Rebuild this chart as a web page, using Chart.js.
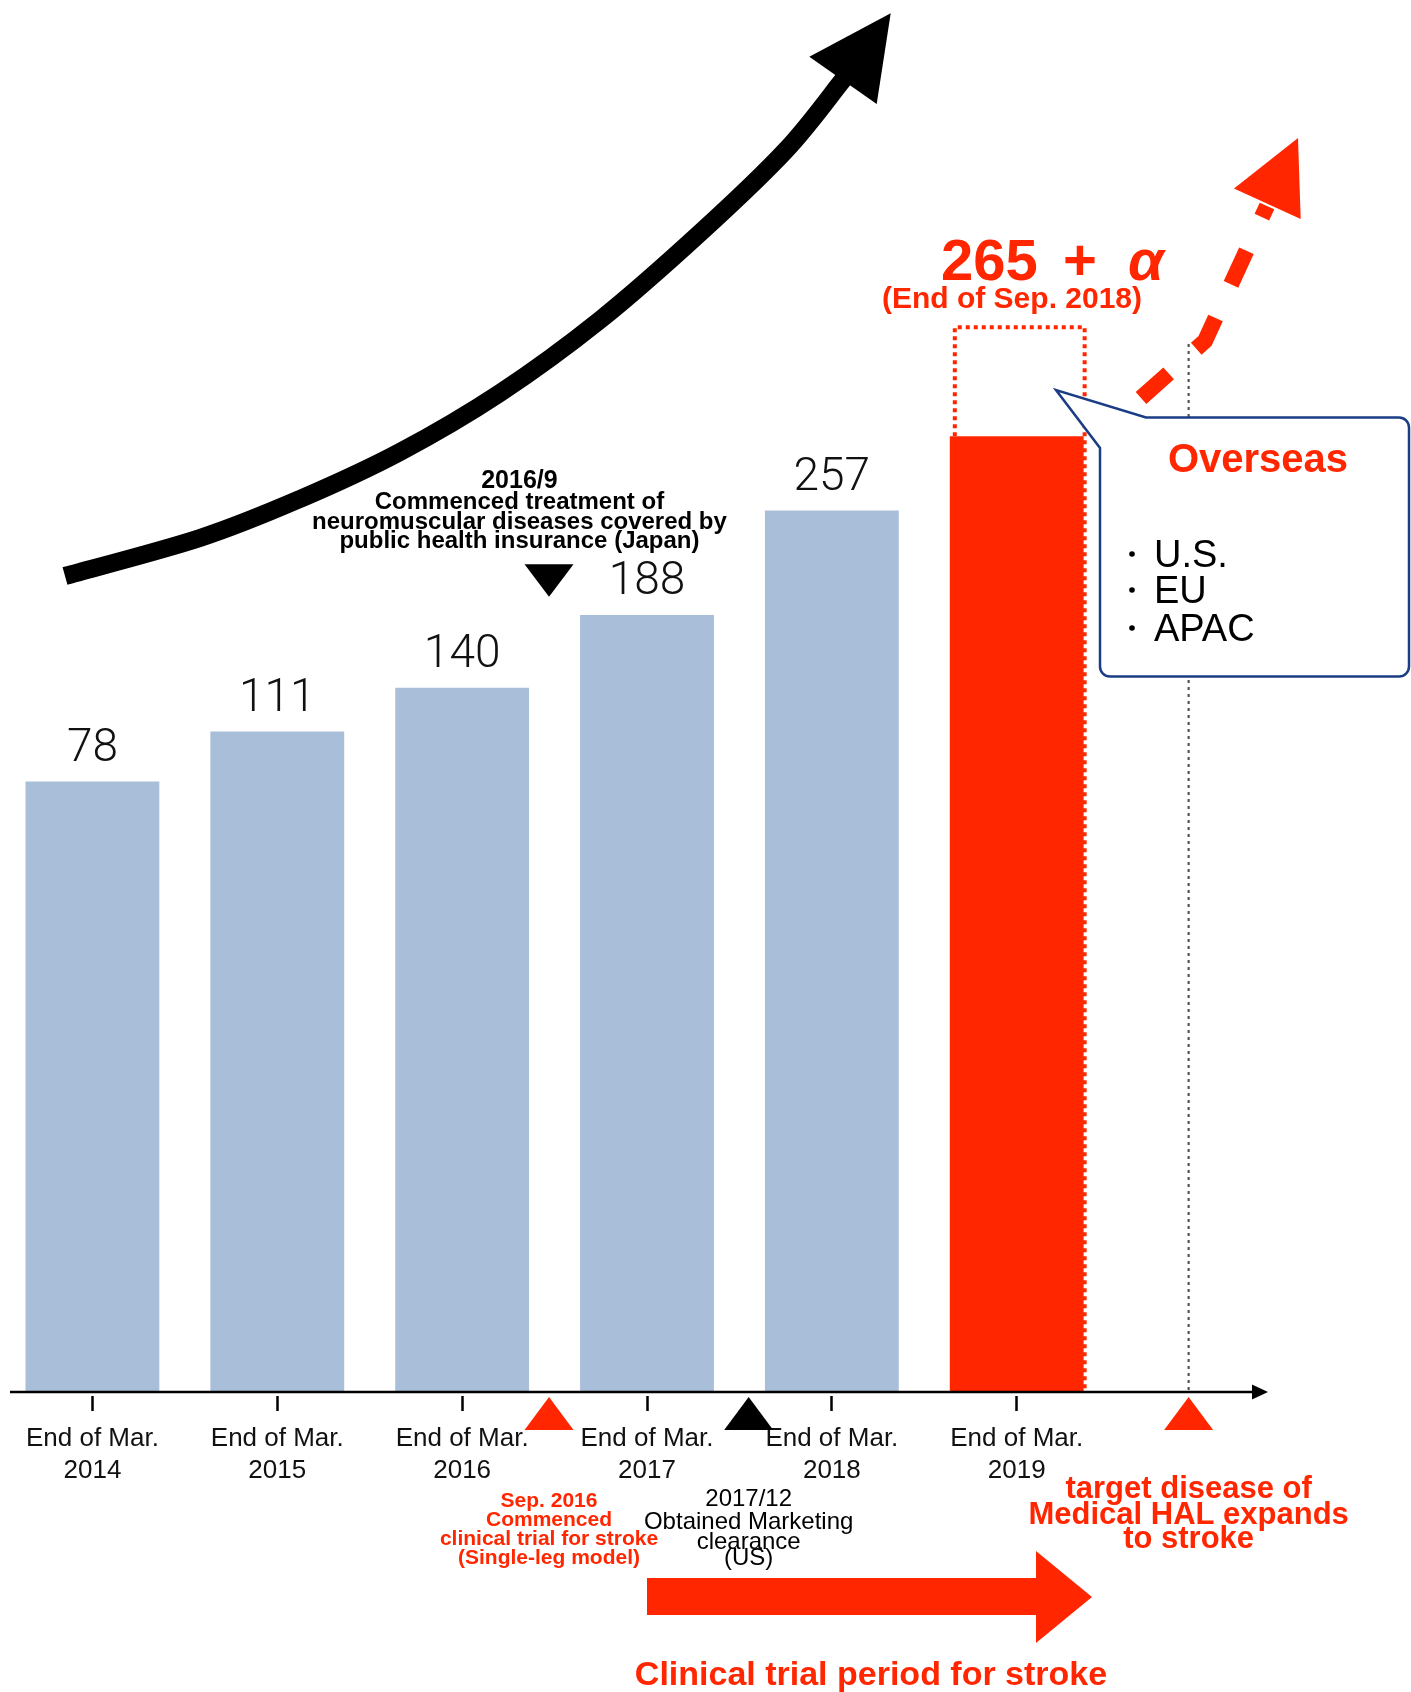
<!DOCTYPE html>
<html>
<head>
<meta charset="utf-8">
<title>Medical HAL units</title>
<script src="https://cdn.jsdelivr.net/npm/chart.js@4.4.1/dist/chart.umd.min.js"></script>
<style>
  html, body { margin: 0; padding: 0; background: #fff; }
  #wrap { position: relative; width: 1411px; height: 1692px; }
</style>
</head>
<body>
<div id="wrap"><canvas id="chart"></canvas></div>
<script>
// datos del grafico
const categories = [
  ['End of Mar.', '2014'],
  ['End of Mar.', '2015'],
  ['End of Mar.', '2016'],
  ['End of Mar.', '2017'],
  ['End of Mar.', '2018'],
  ['End of Mar.', '2019'],
  ''
];
const unitCounts = [78, 111, 140, 188, 257, null, null];
const forecastCounts = [null, null, null, null, null, 306, null]; // barra roja (estimada)
const overseasRange = [null, null, null, null, null, [306, 378], null]; // caja punteada "+ α"
const yMin = -325;
const yMax = 594;

const BLUE = '#a9bed9';
const RED = '#ff2600';
const NAVY = '#1b3d86';
const SANS = '"Liberation Sans", Arial, Helvetica, sans-serif';

function poly(ctx, pts, color) {
  ctx.beginPath();
  pts.forEach((p, i) => i ? ctx.lineTo(p[0], p[1]) : ctx.moveTo(p[0], p[1]));
  ctx.closePath();
  ctx.fillStyle = color;
  ctx.fill();
}

function lines(ctx, rows, x, baselines, font, color) {
  ctx.font = font;
  ctx.fillStyle = color;
  ctx.textAlign = 'center';
  ctx.textBaseline = 'alphabetic';
  rows.forEach((r, i) => ctx.fillText(r, x, baselines[i]));
}

// curva suave (catmull-rom) para la flecha negra
function smoothPath(ctx, pts) {
  ctx.moveTo(pts[0][0], pts[0][1]);
  for (let i = 0; i < pts.length - 1; i++) {
    const p0 = pts[i - 1] || pts[i];
    const p1 = pts[i];
    const p2 = pts[i + 1];
    const p3 = pts[i + 2] || p2;
    ctx.bezierCurveTo(
      p1[0] + (p2[0] - p0[0]) / 6, p1[1] + (p2[1] - p0[1]) / 6,
      p2[0] - (p3[0] - p1[0]) / 6, p2[1] - (p3[1] - p1[1]) / 6,
      p2[0], p2[1]
    );
  }
}

const decor = {
  id: 'decor',
  afterDraw(chart) {
    const ctx = chart.ctx;
    const area = chart.chartArea;
    const xs = chart.scales.x;
    const xAt = v => xs.getPixelForValue(v);
    const axisY = area.bottom;

    ctx.save();

    // linea gris punteada
    ctx.beginPath();
    ctx.setLineDash([3, 4]);
    ctx.lineWidth = 2.2;
    ctx.strokeStyle = '#555';
    ctx.moveTo(xAt(5.93), 344);
    ctx.lineTo(xAt(5.93), axisY);
    ctx.stroke();

    // caja punteada roja (+ α)
    const box = chart.getDatasetMeta(2).data[5];
    const left = box.x - box.width / 2 + 5;
    const right = box.x + box.width / 2 + 1;
    ctx.beginPath();
    ctx.setLineDash([4, 4]);
    ctx.lineWidth = 4;
    ctx.strokeStyle = RED;
    ctx.moveTo(left, box.base);
    ctx.lineTo(left, box.y);
    ctx.lineTo(right, box.y);
    ctx.lineTo(right, axisY);
    ctx.stroke();
    ctx.setLineDash([]);

    // eje x con flecha
    ctx.beginPath();
    ctx.lineWidth = 2.7;
    ctx.strokeStyle = '#000';
    ctx.moveTo(10, axisY);
    ctx.lineTo(1256, axisY);
    ctx.stroke();
    poly(ctx, [[1268, axisY], [1252, axisY - 7.5], [1252, axisY + 7.5]], '#000');

    // globo "Overseas"
    const bx = 1100, by = 417.5, bw = 309, bh = 259, r = 10;
    ctx.beginPath();
    ctx.moveTo(1146, by);
    ctx.lineTo(bx + bw - r, by);
    ctx.arcTo(bx + bw, by, bx + bw, by + r, r);
    ctx.lineTo(bx + bw, by + bh - r);
    ctx.arcTo(bx + bw, by + bh, bx + bw - r, by + bh, r);
    ctx.lineTo(bx + r, by + bh);
    ctx.arcTo(bx, by + bh, bx, by + bh - r, r);
    ctx.lineTo(bx, 448);
    ctx.lineTo(1056, 390);
    ctx.closePath();
    ctx.fillStyle = '#fff';
    ctx.fill();
    ctx.lineWidth = 2.5;
    ctx.strokeStyle = NAVY;
    ctx.lineJoin = 'miter';
    ctx.stroke();

    lines(ctx, ['Overseas'], 1258, [472], 'bold 40px ' + SANS, RED);
    ctx.font = '38px ' + SANS;
    ctx.fillStyle = '#000';
    ctx.textAlign = 'left';
    [['U.S.', 567], ['EU', 603], ['APAC', 641]].forEach(([t, yb]) => {
      ctx.fillText(t, 1154, yb);
      ctx.beginPath();
      ctx.arc(1132, yb - 13, 2.8, 0, Math.PI * 2);
      ctx.fill();
    });

    // flecha roja discontinua
    ctx.beginPath();
    ctx.setLineDash([37, 37]);
    ctx.lineWidth = 16;
    ctx.lineCap = 'butt';
    ctx.strokeStyle = RED;
    ctx.moveTo(1141, 398);
    ctx.lineTo(1205, 341);
    ctx.lineTo(1267, 206);
    ctx.stroke();
    ctx.setLineDash([]);
    poly(ctx, [[1298, 138], [1234, 188.6], [1300.7, 219]], RED);

    // 265 + α
    ctx.fillStyle = RED;
    ctx.textBaseline = 'alphabetic';
    ctx.textAlign = 'left';
    ctx.font = 'bold 58px ' + SANS;
    ctx.fillText('265', 941, 280);
    ctx.textAlign = 'center';
    ctx.fillText('+', 1080, 280);
    ctx.font = 'italic bold 58px ' + SANS;
    ctx.fillText('α', 1146, 280);
    lines(ctx, ['(End of Sep. 2018)'], 1012, [308], 'bold 30px ' + SANS, RED);

    // flecha negra curva
    ctx.beginPath();
    smoothPath(ctx, [[65, 576], [200, 538], [300, 499], [400, 452], [500, 393], [600, 320],
      [700, 233], [786, 150], [842, 81], [851, 70]]);
    ctx.lineWidth = 18;
    ctx.strokeStyle = '#000';
    ctx.stroke();
    poly(ctx, [[890.7, 13.3], [809.3, 56.7], [876.7, 104]], '#000');

    // nota 2016/9
    lines(ctx, ['2016/9'], xAt(2.31), [488], 'bold 25px ' + SANS, '#000');
    lines(ctx, ['Commenced treatment of', 'neuromuscular diseases covered by', 'public health insurance (Japan)'],
      xAt(2.31), [509, 529, 548], 'bold 24px ' + SANS, '#000');
    poly(ctx, [[xAt(2.47) - 24.5, 564.3], [xAt(2.47) + 24.5, 564.3], [xAt(2.47), 596.7]], '#000');

    // triangulos del eje
    const tri = (v, color) => {
      const cx = xAt(v);
      poly(ctx, [[cx, axisY + 5], [cx - 24.5, axisY + 38], [cx + 24.5, axisY + 38]], color);
    };
    tri(2.47, RED);
    tri(3.55, '#000');
    tri(5.93, RED);

    lines(ctx, ['Sep. 2016', 'Commenced', 'clinical trial for stroke', '(Single-leg model)'],
      xAt(2.47), [1507, 1526, 1545, 1564], 'bold 21px ' + SANS, RED);
    lines(ctx, ['2017/12', 'Obtained Marketing', 'clearance', '(US)'],
      xAt(3.55), [1506, 1529, 1549, 1565], '24px ' + SANS, '#000');
    lines(ctx, ['target disease of', 'Medical HAL expands', 'to stroke'],
      xAt(5.93), [1498, 1524, 1548], 'bold 31px ' + SANS, RED);

    // flecha del periodo de ensayo
    poly(ctx, [[647, 1578], [1036, 1578], [1036, 1551], [1092, 1597], [1036, 1643], [1036, 1615], [647, 1615]], RED);
    lines(ctx, ['Clinical trial period for stroke'], 871, [1685], 'bold 34px ' + SANS, RED);

    // etiquetas de valor
    ctx.font = '300 46px Roboto, "Liberation Sans", sans-serif';
    ctx.fillStyle = '#111';
    ctx.textAlign = 'center';
    ctx.textBaseline = 'middle';
    chart.getDatasetMeta(0).data.forEach((bar, i) => {
      if (unitCounts[i] == null) return;
      ctx.fillText(String(unitCounts[i]), bar.x, bar.y - 32);
    });

    ctx.restore();
  }
};

const ctx = document.getElementById('chart').getContext('2d');
const chart = new Chart(ctx, {
  type: 'bar',
  data: {
    labels: categories,
    datasets: [
      { label: 'Units', data: unitCounts, backgroundColor: BLUE, base: yMin, grouped: false,
        barPercentage: 0.724, categoryPercentage: 1 },
      { label: 'Forecast', data: forecastCounts, backgroundColor: RED, base: yMin, grouped: false,
        barPercentage: 0.724, categoryPercentage: 1 },
      { label: 'Overseas (+α)', data: overseasRange, backgroundColor: 'rgba(0,0,0,0)', grouped: false,
        barPercentage: 0.724, categoryPercentage: 1 }
    ]
  },
  options: {
    responsive: true,
    maintainAspectRatio: false,
    animation: false,
    layout: { padding: { left: 0, right: 117, top: 0, bottom: 0 } },
    plugins: { legend: { display: false }, tooltip: { enabled: false } },
    scales: {
      x: {
        offset: true,
        border: { display: false },
        grid: {
          offset: false,
          drawOnChartArea: false,
          drawTicks: true,
          tickLength: 19,
          tickWidth: 2.5,
          tickColor: c => c.index === 6 ? 'rgba(0,0,0,0)' : '#000',
          tickBorderDash: [0, 4, 15, 100]
        },
        ticks: {
          color: '#111',
          font: { family: SANS, size: 26, lineHeight: 1.23 },
          padding: 12,
          maxRotation: 0,
          autoSkip: false
        },
        afterFit: s => { s.height = 300; }
      },
      y: { display: false, min: yMin, max: yMax }
    }
  },
  plugins: [decor]
});
</script>
</body>
</html>
